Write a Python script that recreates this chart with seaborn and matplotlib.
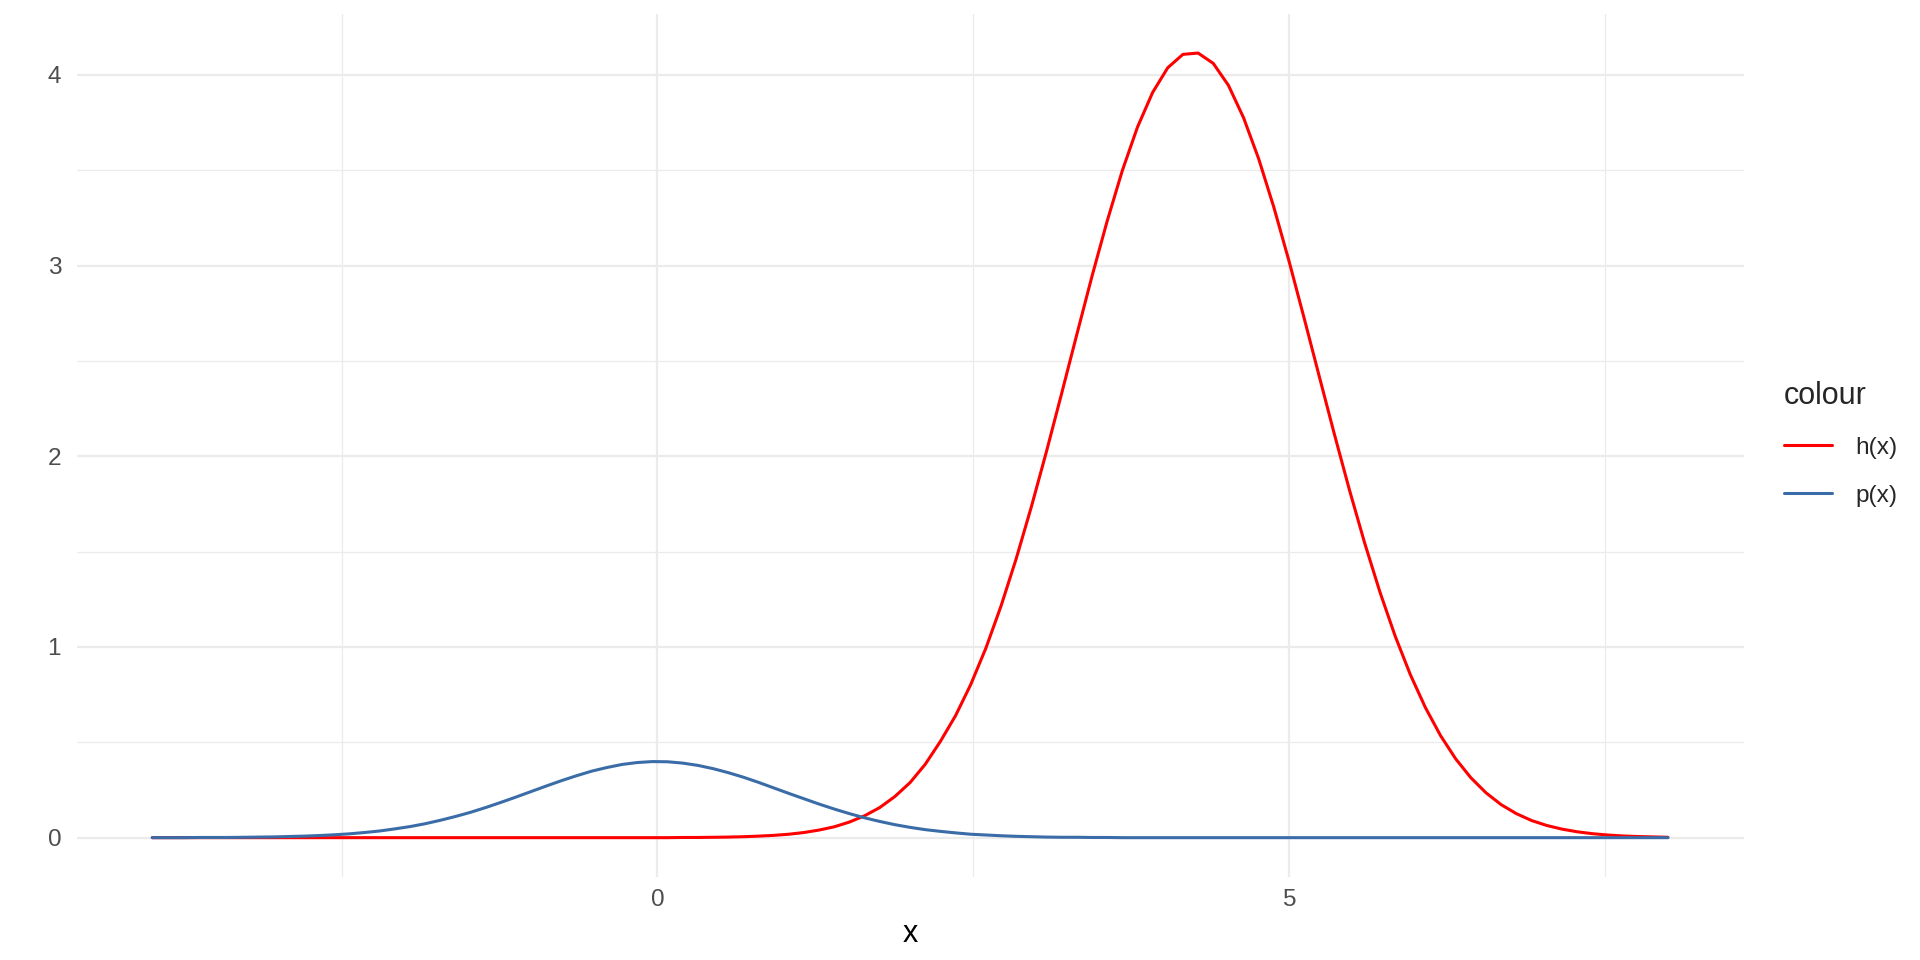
import numpy as np
import pandas as pd
import matplotlib
matplotlib.use("Agg")
import matplotlib.pyplot as plt
import seaborn as sns

# x grid (101 evaluation points from -4 to 8)
x_vals = [-4.00, -3.88, -3.76, -3.64, -3.52, -3.40, -3.28, -3.16, -3.04, -2.92,
          -2.80, -2.68, -2.56, -2.44, -2.32, -2.20, -2.08, -1.96, -1.84, -1.72,
          -1.60, -1.48, -1.36, -1.24, -1.12, -1.00, -0.88, -0.76, -0.64, -0.52,
          -0.40, -0.28, -0.16, -0.04, 0.08, 0.20, 0.32, 0.44, 0.56, 0.68,
          0.80, 0.92, 1.04, 1.16, 1.28, 1.40, 1.52, 1.64, 1.76, 1.88,
          2.00, 2.12, 2.24, 2.36, 2.48, 2.60, 2.72, 2.84, 2.96, 3.08,
          3.20, 3.32, 3.44, 3.56, 3.68, 3.80, 3.92, 4.04, 4.16, 4.28,
          4.40, 4.52, 4.64, 4.76, 4.88, 5.00, 5.12, 5.24, 5.36, 5.48,
          5.60, 5.72, 5.84, 5.96, 6.08, 6.20, 6.32, 6.44, 6.56, 6.68,
          6.80, 6.92, 7.04, 7.16, 7.28, 7.40, 7.52, 7.64, 7.76, 7.88, 8.00]

# p(x) values
p_vals = [0.000, 0.000, 0.000, 0.001, 0.001, 0.001, 0.002, 0.003, 0.004, 0.006,
          0.008, 0.011, 0.015, 0.020, 0.027, 0.035, 0.046, 0.058, 0.073, 0.091,
          0.111, 0.133, 0.158, 0.185, 0.213, 0.242, 0.271, 0.299, 0.325, 0.349,
          0.368, 0.384, 0.394, 0.399, 0.398, 0.391, 0.379, 0.362, 0.341, 0.317,
          0.290, 0.261, 0.232, 0.204, 0.176, 0.150, 0.126, 0.104, 0.085, 0.068,
          0.054, 0.042, 0.033, 0.025, 0.018, 0.014, 0.010, 0.007, 0.005, 0.003,
          0.002, 0.002, 0.001, 0.001, 0.000, 0.000, 0.000, 0.000, 0.000, 0.000,
          0.000, 0.000, 0.000, 0.000, 0.000, 0.000, 0.000, 0.000, 0.000, 0.000,
          0.000, 0.000, 0.000, 0.000, 0.000, 0.000, 0.000, 0.000, 0.000, 0.000,
          0.000, 0.000, 0.000, 0.000, 0.000, 0.000, 0.000, 0.000, 0.000, 0.000, 0.000]

# h(x) values
h_vals = [0.000, 0.000, 0.000, 0.000, 0.000, 0.000, 0.000, 0.000, 0.000, 0.000,
          0.000, 0.000, 0.000, 0.000, 0.000, 0.000, 0.000, 0.000, 0.000, 0.000,
          0.000, 0.000, 0.000, 0.000, 0.000, 0.000, 0.000, 0.000, 0.000, 0.000,
          0.000, 0.000, 0.000, 0.000, 0.000, 0.001, 0.001, 0.002, 0.003, 0.005,
          0.008, 0.012, 0.018, 0.027, 0.040, 0.057, 0.082, 0.115, 0.158, 0.216,
          0.289, 0.385, 0.505, 0.640, 0.803, 0.994, 1.215, 1.463, 1.735, 2.026,
          2.330, 2.639, 2.944, 3.233, 3.498, 3.726, 3.908, 4.038, 4.108, 4.115,
          4.061, 3.946, 3.776, 3.560, 3.306, 3.024, 2.724, 2.418, 2.114, 1.820,
          1.543, 1.288, 1.058, 0.856, 0.682, 0.535, 0.413, 0.314, 0.235, 0.173,
          0.126, 0.090, 0.064, 0.045, 0.031, 0.021, 0.014, 0.009, 0.006, 0.004, 0.002]

series_names = ["h(x)", "p(x)"]
series_colors = {"h(x)": "#FF0000", "p(x)": "#3A6CA8"}

df = pd.concat([
    pd.DataFrame({"x": x_vals, "value": h_vals, "colour": "h(x)"}),
    pd.DataFrame({"x": x_vals, "value": p_vals, "colour": "p(x)"}),
], ignore_index=True)

sns.set_theme(style="white")
plt.rcParams["font.family"] = ["Liberation Sans", "DejaVu Sans"]

DPI = 200
fig = plt.figure(figsize=(9.6, 4.8), dpi=DPI)
ax = fig.add_axes([76.5 / 1920, 1 - 876.9 / 960, (1743.7 - 76.5) / 1920, (876.9 - 13.8) / 960])

sns.lineplot(data=df, x="x", y="value", hue="colour", hue_order=series_names,
             palette=series_colors, linewidth=1.1, estimator=None, errorbar=None,
             sort=False, ax=ax)

ax.set_xlim(-4.6, 8.6)
ax.set_ylim(-0.2058, 4.3208)
ax.set_xticks([0, 5])
ax.set_xticks([-2.5, 2.5, 7.5], minor=True)
ax.set_yticks([0, 1, 2, 3, 4])
ax.set_yticks([0.5, 1.5, 2.5, 3.5], minor=True)
ax.set_xticklabels(["0", "5"])
ax.set_yticklabels(["0", "1", "2", "3", "4"])
ax.grid(True, which="major", color="#EBEBEB", linewidth=0.8)
ax.grid(True, which="minor", color="#EBEBEB", linewidth=0.45)
ax.set_axisbelow(True)
for s in ax.spines.values():
    s.set_visible(False)
ax.tick_params(axis="both", which="both", length=0, labelsize=8.8, labelcolor="#4D4D4D")
ax.tick_params(axis="x", which="major", pad=4.4)
ax.tick_params(axis="y", which="major", pad=5.5)
ax.set_xlabel("x", fontsize=11, color="black", labelpad=3)
ax.set_ylabel("")

handles, labels = ax.get_legend_handles_labels()
ax.get_legend().remove()
leg = fig.legend(handles, labels, title="colour", loc="upper left",
                 bbox_to_anchor=(1784 / 1920, 1 - 381 / 960),
                 frameon=False, fontsize=8.8, title_fontsize=11,
                 handlelength=1.96, handletextpad=0.95, labelspacing=1.05,
                 borderpad=0, borderaxespad=0, alignment="left")
for line in leg.get_lines():
    line.set_linewidth(1.1)

fig.savefig("out.png", dpi=DPI, facecolor="white")
